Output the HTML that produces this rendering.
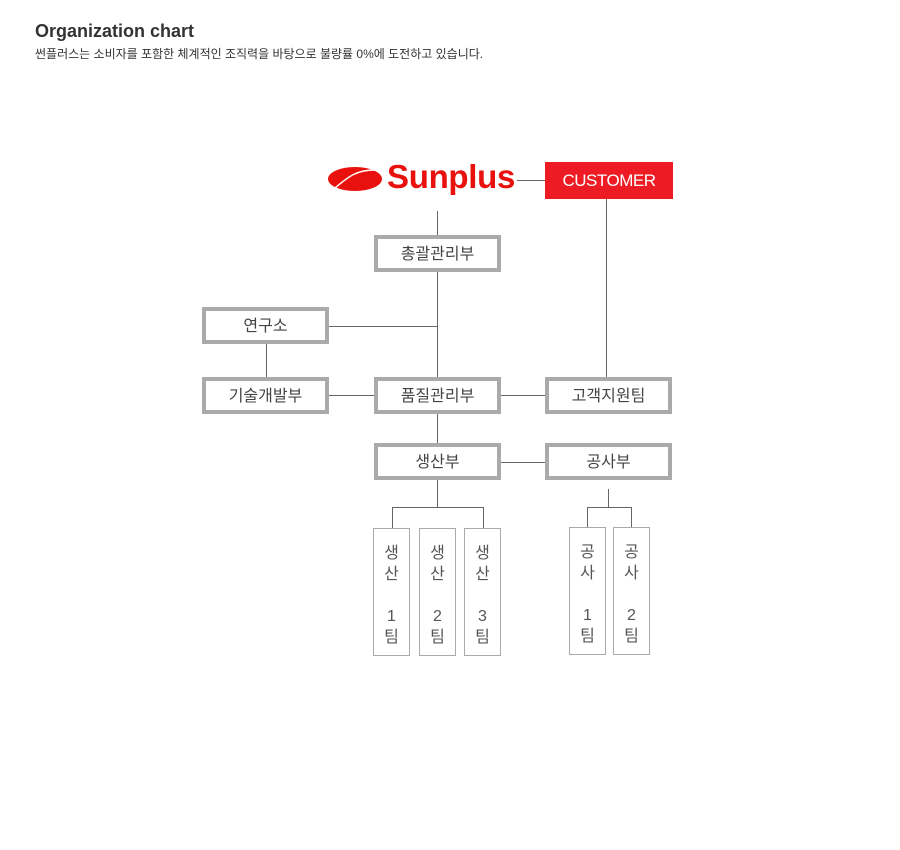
<!DOCTYPE html>
<html><head><meta charset="utf-8"><style>
body{margin:0;width:900px;height:850px;background:#fff;position:relative;font-family:"Liberation Sans","Noto Sans CJK KR",sans-serif;overflow:hidden}
.a{position:absolute}
.b{position:absolute;box-sizing:border-box;border:4px solid #aaa;background:#fff;width:127px;height:37px;text-align:center;line-height:31px;font-size:16px;color:#444}
.l{position:absolute;background:#666}
.t{position:absolute;box-sizing:border-box;border:1px solid #aaa;width:37px;height:128px;text-align:center;font-size:16px;color:#555;line-height:21px;padding-top:14px}
</style></head><body>
<div class="a" style="left:35px;top:21px;font-size:18px;font-weight:bold;color:#333">Organization chart</div>
<div class="a" style="left:35px;top:45px;font-size:12px;color:#333">썬플러스는 소비자를 포함한 체계적인 조직력을 바탕으로 불량률 0%에 도전하고 있습니다.</div>

<svg class="a" style="left:327px;top:166px" width="56" height="26"><ellipse cx="28" cy="13" rx="27" ry="12" fill="#e8110d"/><path d="M8 22 C22 10 30 4 48 4" stroke="#fff" stroke-width="1.5" fill="none"/></svg>
<div class="a" style="left:387px;top:158px;font-size:33px;font-weight:bold;color:#e8110d;letter-spacing:-0.3px">Sunplus</div>
<div class="a" style="left:545px;top:162px;width:128px;height:37px;background:#ed1c24;color:#fff;font-size:17px;text-align:center;line-height:38px;letter-spacing:-0.5px">CUSTOMER</div>

<div class="l" style="left:517px;top:180px;width:28px;height:1px"></div>
<div class="l" style="left:437px;top:211px;width:1px;height:296px"></div>
<div class="l" style="left:606px;top:199px;width:1px;height:178px"></div>
<div class="l" style="left:329px;top:326px;width:108px;height:1px"></div>
<div class="l" style="left:266px;top:344px;width:1px;height:33px"></div>
<div class="l" style="left:329px;top:395px;width:216px;height:1px"></div>
<div class="l" style="left:501px;top:462px;width:44px;height:1px"></div>
<div class="l" style="left:392px;top:507px;width:92px;height:1px"></div>
<div class="l" style="left:392px;top:507px;width:1px;height:21px"></div>
<div class="l" style="left:483px;top:507px;width:1px;height:21px"></div>
<div class="l" style="left:608px;top:489px;width:1px;height:18px"></div>
<div class="l" style="left:587px;top:507px;width:44px;height:1px"></div>
<div class="l" style="left:587px;top:507px;width:1px;height:20px"></div>
<div class="l" style="left:631px;top:507px;width:1px;height:20px"></div>

<div class="b" style="left:374px;top:235px">총괄관리부</div>
<div class="b" style="left:202px;top:307px">연구소</div>
<div class="b" style="left:202px;top:377px">기술개발부</div>
<div class="b" style="left:374px;top:377px">품질관리부</div>
<div class="b" style="left:545px;top:377px">고객지원팀</div>
<div class="b" style="left:374px;top:443px">생산부</div>
<div class="b" style="left:545px;top:443px">공사부</div>

<div class="t" style="left:373px;top:528px">생<br>산<br>&nbsp;<br>1<br>팀</div>
<div class="t" style="left:419px;top:528px">생<br>산<br>&nbsp;<br>2<br>팀</div>
<div class="t" style="left:464px;top:528px">생<br>산<br>&nbsp;<br>3<br>팀</div>
<div class="t" style="left:569px;top:527px">공<br>사<br>&nbsp;<br>1<br>팀</div>
<div class="t" style="left:613px;top:527px">공<br>사<br>&nbsp;<br>2<br>팀</div>
</body></html>
